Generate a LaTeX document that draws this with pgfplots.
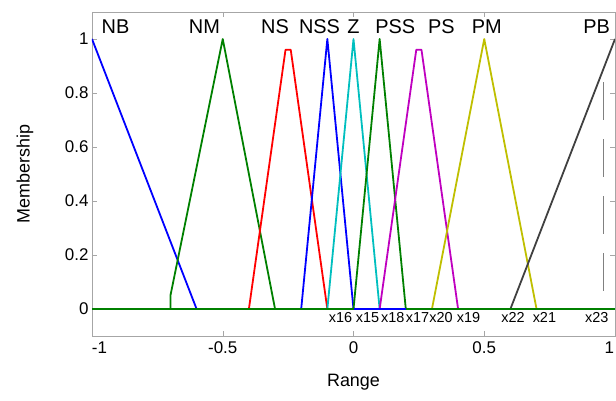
\documentclass[border=0pt]{standalone}
\usepackage{pgfplots}
\pgfplotsset{compat=1.18}
\usepackage{fontspec}
\setmainfont{Liberation Sans}
\definecolor{mgreen}{RGB}{0,128,0}
\definecolor{mcyan}{RGB}{0,191,191}
\definecolor{mmag}{RGB}{191,0,191}
\definecolor{myel}{RGB}{191,191,0}
\definecolor{mgray}{RGB}{64,64,64}
\begin{document}
\begin{tikzpicture}
\useasboundingbox (-92bp,-65bp) rectangle (524bp,336bp);
\begin{axis}[
  scale only axis, width=523bp, height=324bp,
  xmin=-1, xmax=1, ymin=-0.1, ymax=1.1,
  xtick={-1,-0.5,0,0.5,1},
  xticklabels={\makebox[0pt][l]{-1},-0.5,0,0.5,\makebox[0pt][r]{1\hspace{1bp}}},
  ytick={0,0.2,0.4,0.6,0.8,1}, yticklabels={0,0.2,0.4,0.6,0.8,1},
  tick align=inside, major tick length=5bp,
  axis line style={gray!70}, tick style={gray!70},
  tick label style={font=\fontsize{17}{17}\selectfont},
  xticklabel style={yshift=-2bp},
  label style={font=\fontsize{18}{18}\selectfont},
  xlabel={Range}, ylabel={Membership},
  xlabel style={at={(axis description cs:0.5,-0.142)}, anchor=center},
  ylabel style={at={(axis description cs:-0.128,0.5)}, anchor=center},
  every axis plot/.append style={line width=1.8pt, line join=round},
  clip=true]
\addplot[blue] coordinates {(-1,1)(-0.6,0)};
\addplot[mgreen] coordinates {(-0.7,0)(-0.7,0.05)(-0.5,1)(-0.3,0)};
\addplot[red] coordinates {(-0.4,0)(-0.26,0.96)(-0.24,0.96)(-0.1,0)};
\addplot[blue] coordinates {(-0.2,0)(-0.1,1)(0,0)};
\addplot[mcyan] coordinates {(-0.1,0)(0,1)(0.1,0)};
\addplot[mgreen] coordinates {(0,0)(0.1,1)(0.2,0)};
\addplot[mmag] coordinates {(0.1,0)(0.24,0.96)(0.26,0.96)(0.4,0)};
\addplot[myel] coordinates {(0.3,0)(0.5,1)(0.7,0)};
\addplot[mgray] coordinates {(0.6,0)(1,1)};
\addplot[gray, line width=0.9pt, dash pattern=on 38bp off 19bp] coordinates {(0.955,0.84)(0.955,0.067)};
\addplot[mgreen] coordinates {(-1,0)(1,0)};
\addplot[blue] coordinates {(0,0)(0.2,0)};
\begin{scope}[every node/.style={font=\fontsize{20}{20}\selectfont}]
\node at (axis cs:-0.91,1.045) {NB};
\node at (axis cs:-0.57,1.045) {NM};
\node at (axis cs:-0.30,1.045) {NS};
\node at (axis cs:-0.13,1.045) {NSS};
\node at (axis cs:0,1.045) {Z};
\node at (axis cs:0.16,1.045) {PSS};
\node at (axis cs:0.336,1.045) {PS};
\node at (axis cs:0.51,1.045) {PM};
\node at (axis cs:0.93,1.045) {PB};
\end{scope}
\begin{scope}[every node/.style={font=\fontsize{14.5}{14.5}\selectfont}]
\node at (axis cs:-0.05,-0.033) {x16};
\node at (axis cs:0.054,-0.033) {x15};
\node at (axis cs:0.15,-0.033) {x18};
\node at (axis cs:0.245,-0.033) {x17};
\node at (axis cs:0.335,-0.033) {x20};
\node at (axis cs:0.44,-0.033) {x19};
\node at (axis cs:0.61,-0.033) {x22};
\node at (axis cs:0.73,-0.033) {x21};
\node at (axis cs:0.93,-0.033) {x23};
\end{scope}
\end{axis}
\end{tikzpicture}
\end{document}
